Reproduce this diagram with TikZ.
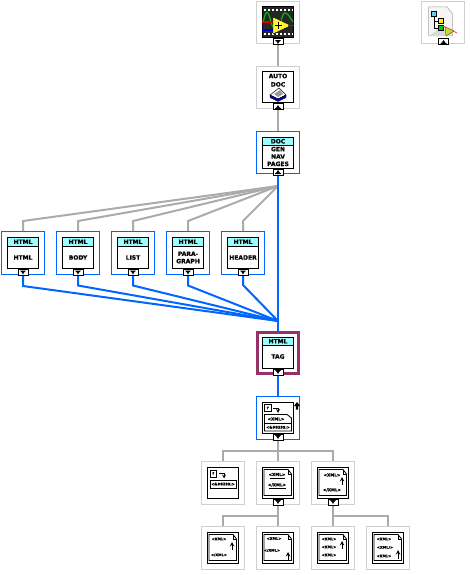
\documentclass[tikz,border=0pt]{standalone}
\usepackage{fontspec}
\setmainfont{DejaVu Sans}
\newfontfamily\heavyfont{DejaVu Sans}[UprightFont=* Bold, FakeBold=0.5]
\usetikzlibrary{calc}

\definecolor{wiregrey}{HTML}{ABABAB}
\definecolor{framegrey}{HTML}{D0D0D0}
\definecolor{wireblue}{HTML}{0066FF}
\definecolor{tagplum}{HTML}{963266}
\definecolor{headcyan}{HTML}{99FFFF}

\tikzset{
  framebox/.style={draw=framegrey, line width=1.4pt, minimum size=42.5pt, inner sep=0pt, fill=white},
  bluebox/.style={framebox, draw=wireblue},
  tagbox/.style={framebox, draw=tagplum, line width=3pt, minimum size=41pt},
  vibox/.style={draw=black, line width=1pt, minimum size=31pt, inner sep=0pt, fill=white},
  headbox/.style={draw=black, line width=1pt, fill=headcyan, minimum width=31pt, minimum height=8.5pt, inner sep=0pt, anchor=north,
    font=\fontsize{6}{7}\selectfont\heavyfont},
  labeltext/.style={inner sep=0pt, align=center, font=\fontsize{6}{7.4}\selectfont\heavyfont},
  xmltext/.style={inner sep=0pt, font=\fontsize{4.1}{4}\selectfont\heavyfont},
  smalltext/.style={inner sep=0pt, font=\fontsize{3.6}{4}\selectfont\heavyfont},
  termbox/.style={draw=black, line width=1pt, fill=white, minimum width=10pt, minimum height=6pt, inner sep=0pt},
  termdown/.style={termbox, path picture={
    \fill[black] ($(path picture bounding box.center)+(-3,-1.8)$) -- ++(6,0) -- ++(-2,2) -- ++(-1,2) -- ++(-1,-2) -- cycle;}},
  termup/.style={termbox, path picture={
    \fill[black] ($(path picture bounding box.center)+(0,-2)$) -- ++(2,3) -- ++(1,0) -- ++(0,1) -- ++(-6,0) -- ++(0,-1) -- ++(1,0) -- cycle;}},
  greywire/.style={draw=wiregrey, line width=2pt},
  bluewire/.style={draw=wireblue, line width=2pt},
  pageline/.style={draw=black, line width=0.8pt},
  uparrow/.style={draw=black, line width=1pt, -stealth},
}

% folded sheet inside a box, centred on (#1,#2)
\newcommand{\xmlsheet}[2]{
  \draw[pageline] (#1-14,#2-13.5) -- (#1+10,#2-13.5) -- (#1+13.5,#2-9) -- (#1+13.5,#2+12.5) -- (#1-14,#2+12.5) -- cycle;
  \draw[pageline, line width=0.5pt] (#1+10,#2-13.5) -- (#1+10,#2-9) -- (#1+13.5,#2-9);
}

\begin{document}
\begin{tikzpicture}[x=1pt,y=-1pt]
  \useasboundingbox (0,0) rectangle (470,575);

  % film node
  \node[framebox] (filmF) at (278,22.5) {};
  \node[vibox, fill=black!85] (filmB) at (278,22) {};
  \node[termdown] (filmT) at (278,42) {};
  \draw[white, line width=2pt, dash pattern=on 2pt off 2pt] (264,10) -- (293,10);
  \draw[white, line width=2pt, dash pattern=on 2pt off 2pt] (264,34) -- (293,34);
  \draw[green!75!black, line width=1.2pt] (263,23) .. controls (266,8) and (268,10) .. (271,22) .. controls (274,32) and (278,32) .. (281,22) .. controls (283,10) and (286,10) .. (293,22);
  \draw[red!85!black, line width=1.6pt] (262,22) -- (273,22);
  \draw[blue!80!black, line width=1.6pt] (262,30) -- (273,30);
  \fill[yellow!80!white, draw=black, line width=0.4pt] (273,17) -- (291,25.5) -- (273,34) -- cycle;
  \draw[red!85!black, line width=1.6pt] (288,25.7) -- (294,25.7);
  \draw[black, line width=1.3pt] (274.5,25.5) -- (282,25.5) (278.2,21.7) -- (278.2,29.3);

  % autodoc node
  \node[framebox] (autoF) at (278,87.5) {};
  \node[vibox] (autoB) at (278,87) {};
  \node[termup] (autoT) at (278,107) {};
  \node[labeltext] (autoL) at (278,80.2) {AUTO\\[1pt]DOC};
  \fill[white, draw=black, line width=0.5pt] (270,95) -- (279,88) -- (286,95) -- (278,99) -- cycle;
  \fill[black!40] (274,94) -- (280,90) -- (283,94) -- (278,97) -- cycle;
  \fill[blue!70!black, draw=black, line width=0.4pt] (270,95) -- (278,99) -- (286,95) -- (286,97.5) -- (278,101.5) -- (270,97.5) -- cycle;

  % gen nav pages node
  \node[bluebox] (docF) at (278,152.5) {};
  \node[vibox] (docB) at (278,152.5) {};
  \node[headbox] (docH) at (docB.north) {DOC};
  \node[termup] (docT) at (278,172) {};
  \node[labeltext] (docL) at (278,156.5) {GEN\\NAV\\PAGES};

  % five html nodes
  \coordinate (fanG) at (278,186);
  \coordinate (fanB) at (278,321);

  \node[bluebox] (htmlF) at (23,253) {};
  \node[vibox] (htmlB) at (23,253) {};
  \node[headbox] (htmlH) at (htmlB.north) {HTML};
  \node[termdown] (htmlT) at (23,272.5) {};
  \node[labeltext] (htmlL) at (23,257.5) {HTML};

  \node[bluebox] (bodyF) at (78,253) {};
  \node[vibox] (bodyB) at (78,253) {};
  \node[headbox] (bodyH) at (bodyB.north) {HTML};
  \node[termdown] (bodyT) at (78,272.5) {};
  \node[labeltext] (bodyL) at (78,257.5) {BODY};

  \node[bluebox] (listF) at (133,253) {};
  \node[vibox] (listB) at (133,253) {};
  \node[headbox] (listH) at (listB.north) {HTML};
  \node[termdown] (listT) at (133,272.5) {};
  \node[labeltext] (listL) at (133,257.5) {LIST};

  \node[bluebox] (paraF) at (188,253) {};
  \node[vibox] (paraB) at (188,253) {};
  \node[headbox] (paraH) at (paraB.north) {HTML};
  \node[termdown] (paraT) at (188,272.5) {};
  \node[labeltext] (paraL) at (188,257.5) {PARA-\\GRAPH};

  \node[bluebox] (headF) at (243,253) {};
  \node[vibox] (headB) at (243,253) {};
  \node[headbox] (headH) at (headB.north) {HTML};
  \node[termdown] (headT) at (243,272.5) {};
  \node[labeltext] (headL) at (243,257.5) {HEADER};

  % tag node
  \node[tagbox] (tagF) at (278,353) {};
  \node[vibox] (tagB) at (278,352.5) {};
  \node[headbox] (tagH) at (tagB.north) {HTML};
  \node[termdown] (tagT) at (278,372) {};
  \node[labeltext] (tagL) at (278,356.5) {TAG};

  % escape node
  \node[bluebox] (escF) at (278,418) {};
  \node[vibox] (escB) at (278,417.5) {};
  \node[termdown] (escT) at (278,437) {};
  \draw[pageline] (264.5,404.5) rectangle (271,411.5);
  \node[smalltext] (escK) at (267.7,408) {f};
  \draw[pageline] (273,408) -- (278,408);
  \draw[pageline, -stealth] (278,408) -- (278,413);
  \draw[pageline] (264.5,414.5) -- (287,414.5) -- (291.5,418) -- (291.5,431) -- (264.5,431) -- cycle;
  \draw[pageline] (264.5,423.5) -- (291.5,423.5);
  \node[xmltext] (escX) at (276,419) {<XML>};
  \node[smalltext] (escC) at (278,427.5) {<\&\#8299;>};
  \fill[black] (297,402) -- (300,406) -- (298.2,406) -- (298.2,409.5) -- (295.8,409.5) -- (295.8,406) -- (294,406) -- cycle;

  % second row under escape
  \node[framebox] (rawF) at (223,483) {};
  \node[vibox] (rawB) at (223,482.5) {};
  \draw[pageline] (210,470) rectangle (216.5,477);
  \node[smalltext] (rawK) at (213.2,473.5) {f};
  \draw[pageline] (219,473) -- (224,473);
  \draw[pageline, -stealth] (224,473) -- (224,478.5);
  \draw[pageline] (210,480.5) rectangle (236,488);
  \node[smalltext] (rawC) at (223,484.3) {<\&\#8299;>};

  \node[framebox] (pairF) at (278,483) {};
  \node[vibox] (pairB) at (278,482.5) {};
  \node[termdown] (pairT) at (278,502) {};
  \xmlsheet{278}{483}
  \node[xmltext] (pairA) at (277,474.5) {<XML>};
  \draw[pageline] (270,478) -- (285,478);
  \node[xmltext] (pairC) at (277,485) {</XML>};
  \draw[pageline] (269,488.5) -- (286,488.5);

  \node[framebox] (emptyF) at (333,483) {};
  \node[vibox] (emptyB) at (333,482.5) {};
  \node[termdown] (emptyT) at (333,502) {};
  \xmlsheet{333}{483}
  \node[xmltext] (emptyA) at (332,475) {<XML>};
  \node[xmltext] (emptyC) at (332,490) {</XML>};
  \draw[uparrow] (342,485) -- (342,477);

  % third row
  \node[framebox] (leafAF) at (223,548) {};
  \node[vibox] (leafAB) at (223,547.5) {};
  \xmlsheet{223}{548}
  \node[smalltext] (leafAA) at (219,539) {<XML>};
  \node[smalltext] (leafAC) at (219,555) {</XML>};
  \draw[uparrow] (232,550) -- (232,542);

  \node[framebox] (leafBF) at (278,548) {};
  \node[vibox] (leafBB) at (278,547.5) {};
  \xmlsheet{278}{548}
  \node[smalltext] (leafBA) at (274,538.5) {<XML>};
  \node[smalltext] (leafBC) at (272,550.5) {</XML>};
  \draw[uparrow] (288,560) -- (288,552);

  \node[framebox] (leafCF) at (333,548) {};
  \node[vibox] (leafCB) at (333,547.5) {};
  \xmlsheet{333}{548}
  \node[smalltext] (leafCA) at (329,539) {<XML>};
  \node[smalltext] (leafCC) at (329,547) {<XML>};
  \node[smalltext] (leafCE) at (329,555) {<XML>};
  \draw[uparrow] (342,549) -- (342,541);

  \node[framebox] (leafDF) at (388,548) {};
  \node[vibox] (leafDB) at (388,547.5) {};
  \xmlsheet{388}{548}
  \node[smalltext] (leafDA) at (384,539) {<XML>};
  \node[smalltext] (leafDC) at (385,547.5) {<XML/>};
  \node[smalltext] (leafDE) at (384,556) {<XML>};
  \draw[uparrow] (398,559) -- (398,550);

  % free icon top right
  \node[framebox] (hierF) at (443,22.5) {};
  \node[termup] (hierT) at (443.5,42) {};
  \fill[black!4, draw=black!35, line width=0.5pt] (428.5,7) -- (447,7) -- (452.5,14) -- (452.5,36) -- (428.5,36) -- cycle;
  \fill[black!15] (429,36) -- (437,30) -- (452,30) -- (452,36) -- cycle;
  \draw[black, line width=0.7pt] (434,17) -- (434,28) -- (438,28) (434,21) -- (438,21);
  \fill[cyan!60, draw=black, line width=0.7pt] (431.5,11.5) rectangle (436.5,16.5);
  \fill[yellow, draw=black, line width=0.7pt] (438.5,18.5) rectangle (443.5,23.5);
  \fill[green!80!black, draw=black, line width=0.7pt] (438.5,25.5) rectangle (443.5,30.5);
  \draw[red!70, line width=0.8pt] (443,26) -- (457,33);
  \fill[yellow!85!black, draw=black!70, line width=0.4pt] (445,27) -- (454,31) -- (446,36) -- cycle;

  % wires
  \draw[greywire] (filmT.south) -- (autoF.north);
  \draw[greywire] (autoT.south) -- (docF.north);
  \draw[greywire] (htmlF.north) -- (23,221) -- (fanG);
  \draw[greywire] (bodyF.north) -- (78,221) -- (fanG);
  \draw[greywire] (listF.north) -- (133,221) -- (fanG);
  \draw[greywire] (paraF.north) -- (188,221) -- (fanG);
  \draw[greywire] (headF.north) -- (243,221) -- (fanG);
  \draw[bluewire] (docT.south) -- (tagF.north);
  \draw[bluewire] (htmlT.south) -- (23,286) -- (fanB);
  \draw[bluewire] (bodyT.south) -- (78,285.5) -- (fanB);
  \draw[bluewire] (listT.south) -- (133,285.5) -- (fanB);
  \draw[bluewire] (paraT.south) -- (188,285.5) -- (fanB);
  \draw[bluewire] (headT.south) -- (243,285) -- (fanB);
  \draw[bluewire] (tagT.south) -- (escF.north);
  \draw[greywire] (escT.south) -- (pairF.north);
  \draw[greywire] (rawF.north) -- (223,451) -- (333,451) -- (emptyF.north);
  \draw[greywire] (pairT.south) -- (leafBF.north);
  \draw[greywire] (leafAF.north) -- (223,516) -- (278,516);
  \draw[greywire] (emptyT.south) -- (leafCF.north);
  \draw[greywire] (leafDF.north) -- (388,516) -- (333,516);
\end{tikzpicture}
\end{document}
